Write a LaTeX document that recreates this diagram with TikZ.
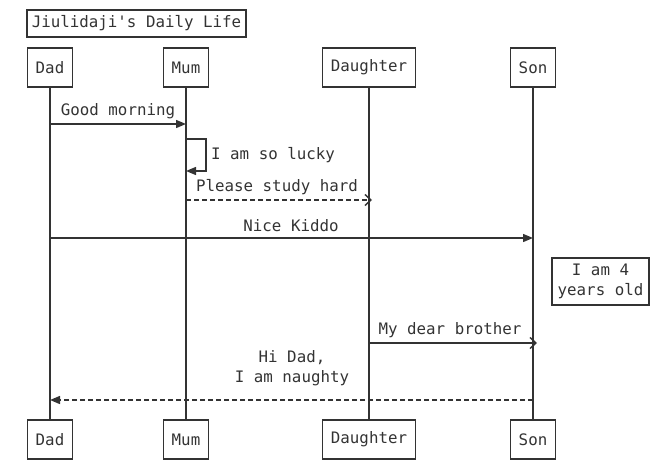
\documentclass[tikz,border=0pt]{standalone}
\usepackage{fontspec}
\setmainfont{DejaVu Sans Mono}
\usetikzlibrary{arrows.meta}
\definecolor{ink}{HTML}{333333}
\begin{document}
\begin{tikzpicture}[x=1pt,y=-1pt,
  every node/.style={font=\fontsize{15.8}{19}\selectfont, text=ink},
  actor/.style={draw=ink, line width=1.4pt, minimum height=39pt, inner xsep=8.5pt, inner ysep=2pt},
  titlebox/.style={draw=ink, line width=1.4pt, minimum height=27pt, inner xsep=5pt, inner ysep=2pt},
  note/.style={draw=ink, line width=1.4pt, align=center, inner xsep=4pt, inner ysep=4pt, font=\fontsize{15.8}{20}\selectfont},
  life/.style={draw=ink, line width=1.4pt},
  msg/.style={draw=ink, line width=1.4pt, -{Triangle[length=10pt,width=8pt]}},
  msgopen/.style={draw=ink, line width=1.4pt, -{Straight Barb[length=6pt,width=11pt]}},
  lbl/.style={inner sep=1pt, align=center}
]
\useasboundingbox (0,0) rectangle (663,471);

\node[titlebox] (title) at (136.5,23.5) {Jiulidaji\textquotesingle s Daily Life};

\node[actor] (dadT) at (50,67.5) {Dad};
\node[actor] (mumT) at (186,67.5) {Mum};
\node[actor] (dauT) at (369,67.5) {Daughter};
\node[actor] (sonT) at (533,67.5) {Son};

\node[actor] (dadB) at (50,439.5) {Dad};
\node[actor] (mumB) at (186,439.5) {Mum};
\node[actor] (dauB) at (369,439.5) {Daughter};
\node[actor] (sonB) at (533,439.5) {Son};

\draw[life] (dadT) -- (dadB);
\draw[life] (mumT) -- (mumB);
\draw[life] (dauT) -- (dauB);
\draw[life] (sonT) -- (sonB);

% Good morning
\coordinate (m1a) at (50,124);
\coordinate (m1b) at (186,124);
\draw[msg] (m1a) -- (m1b);
\node[lbl] (l1) at (118,111) {Good morning};

% self loop
\coordinate (s1) at (186,139);
\coordinate (s2) at (206,139);
\coordinate (s3) at (206,171);
\coordinate (s4) at (186,171);
\draw[msg] (s1) -- (s2) -- (s3) -- (s4);
\node[lbl, anchor=west] (l2) at (210,155) {I am so lucky};

% Please study hard
\coordinate (m3a) at (186,200);
\coordinate (m3b) at (372,200);
\draw[msgopen, dashed, dash pattern=on 5pt off 3pt] (m3a) -- (m3b);
\node[lbl] (l3) at (277,187) {Please study hard};

% Nice Kiddo
\coordinate (m4a) at (50,238);
\coordinate (m4b) at (533,238);
\draw[msg] (m4a) -- (m4b);
\node[lbl] (l4) at (291,226) {Nice Kiddo};

% note
\node[note, minimum width=97pt, minimum height=47pt] (n1) at (600.5,281.5) {I am 4\\years old};

% My dear brother
\coordinate (m5a) at (369,343);
\coordinate (m5b) at (537,343);
\draw[msgopen] (m5a) -- (m5b);
\node[lbl] (l5) at (450,330) {My dear brother};

% Hi Dad
\coordinate (m6a) at (533,400);
\coordinate (m6b) at (50,400);
\draw[msg, dashed, dash pattern=on 5pt off 3pt] (m6a) -- (m6b);
\node[lbl, font=\fontsize{15.8}{20}\selectfont] (l6) at (292,368) {Hi Dad,\\I am naughty};
\end{tikzpicture}
\end{document}
